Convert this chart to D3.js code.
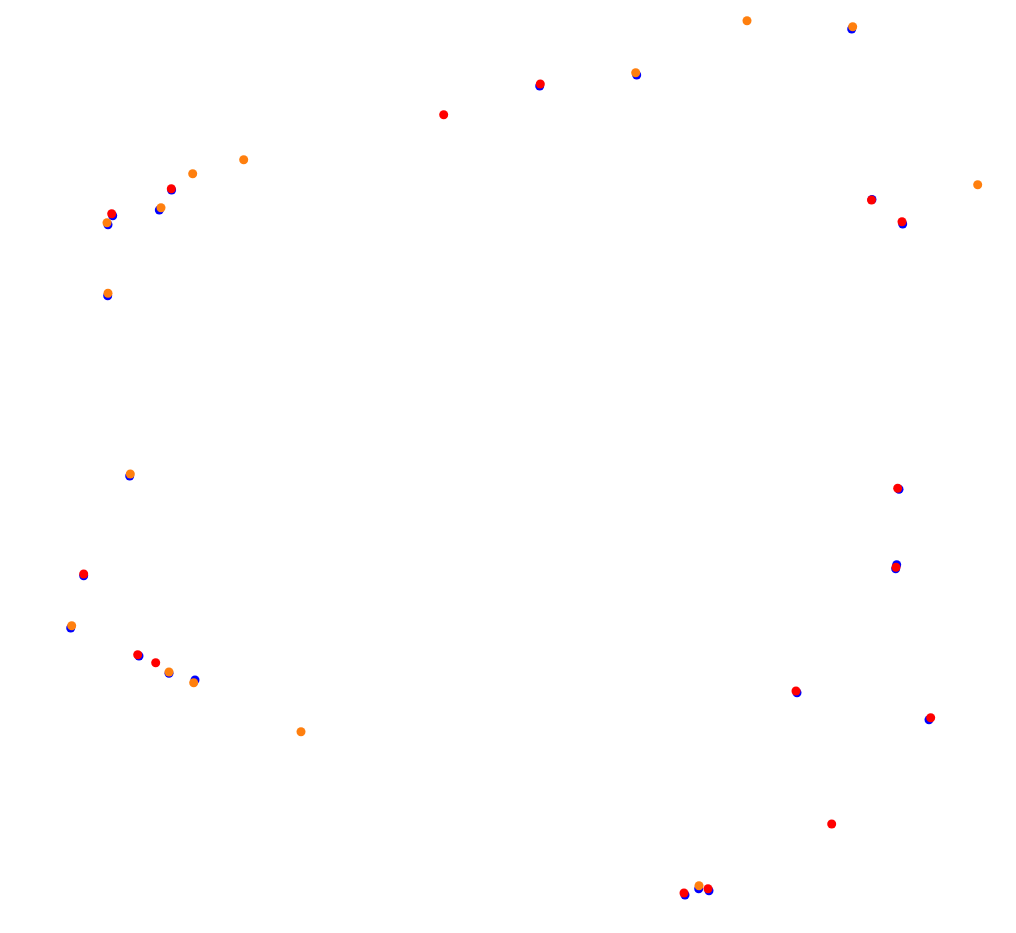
<!DOCTYPE html>
<html>
<head>
<meta charset="utf-8">
<script src="https://cdn.jsdelivr.net/npm/d3@7"></script>
<style>
html,body{margin:0;padding:0;background:#fff;}
svg{display:block;}
</style>
</head>
<body>
<svg id="chart" width="1016" height="933"></svg>
<script>
// Series values (x, y) in plot units
const blueX = [171.6,159.3,112.7,108,107.7,83.7,70.7,139,169,195,129.7,539.7,636.7,851.7,872,902.7,899,896.7,895.7,797,929,685,698.7,709];
const blueY = [190,210,215.7,224.7,295.7,575.7,628,656,673.3,680,476,86,75,29,199.5,224,489.3,564.7,568.7,692.7,719.7,895,888.7,890.7];

const redX = [171.3,111.7,83.7,137.7,155.7,443.7,540.3,871.5,902,897.7,896,796,930.7,831.7,684,708];
const redY = [188.7,213.7,574,654.7,662.7,114.7,84,200,221.7,488.3,567.3,691,717.7,824,893,888.7];

const orangeX = [243.7,192.7,161,107,108,71.7,169,193.7,301,130.3,635.7,747,852.7,977.7,699];
const orangeY = [159.7,173.7,207.7,222.7,293.3,625.7,672,682.7,731.7,474,72.7,20.7,26.7,184.7,885.7];

const seriesNames = ["blue","red","orange"];
const seriesColors = ["#0000ff","#ff0000","#ff7f0e"];

const W = 1016, H = 933;
const x = d3.scaleLinear().domain([0,1016]).range([0,W]);
const y = d3.scaleLinear().domain([0,933]).range([0,H]);

const svg = d3.select("#chart");
const data = [
  d3.zip(blueX, blueY),
  d3.zip(redX, redY),
  d3.zip(orangeX, orangeY)
];

data.forEach((pts, i) => {
  svg.append("g")
    .attr("class", seriesNames[i])
    .selectAll("circle")
    .data(pts)
    .join("circle")
    .attr("cx", d => x(d[0]))
    .attr("cy", d => y(d[1]))
    .attr("r", 4.5)
    .attr("fill", seriesColors[i]);
});
</script>
</body>
</html>
